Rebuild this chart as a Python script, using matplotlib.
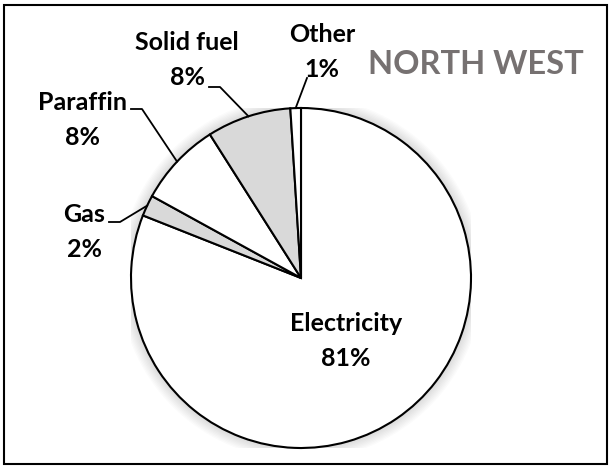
import numpy as np
import matplotlib
matplotlib.use("Agg")
import matplotlib.pyplot as plt
from matplotlib.patches import Rectangle, Circle

categories = ["Electricity", "Gas", "Paraffin", "Solid fuel", "Other"]
values = [81, 2, 8, 8, 1]
colors = ["white", "#d9d9d9", "white", "#d9d9d9", "white"]
title = "NORTH WEST"

plt.rcParams['font.family'] = ['Lato', 'DejaVu Sans']

W, H = 612, 468
fig = plt.figure(figsize=(W / 100, H / 100), dpi=100)
cx, cy, R = 301, 278, 170
ax = fig.add_axes([(cx - R) / W, (H - cy - R) / H, 2 * R / W, 2 * R / H])

# soft shadow
for r in np.linspace(1.07, 1.0, 10):
    ax.add_patch(Circle((0, 0), r, color='black', alpha=0.015, lw=0, zorder=0))

wedges, _ = ax.pie(values, colors=colors, startangle=90, counterclock=False,
                   radius=1.0, wedgeprops=dict(edgecolor='black', linewidth=1.5))
for w in wedges:
    w.set_zorder(2)
ax.set_xlim(-1, 1)
ax.set_ylim(-1, 1)
ax.set_aspect('equal')
ax.axis('off')

def px(x, y):
    return ((x - cx) / R, (cy - y) / R)

fs = 18
label_info = {
    "Electricity": dict(pos=(346, 341), hook=None),
    "Gas": dict(pos=(84, 232), hook=(109, 222)),
    "Paraffin": dict(pos=(82, 120), hook=(131, 109)),
    "Solid fuel": dict(pos=(187, 60), hook=(209, 87)),
    "Other": dict(pos=(322, 52), hook=(307, 78)),
}

for cat, v, w in zip(categories, values, wedges):
    ang = np.deg2rad((w.theta1 + w.theta2) / 2)
    info = label_info[cat]
    tx, ty = px(*info['pos'])
    ax.text(tx, ty, f"{cat}\n{v}%", ha='center', va='center', fontsize=fs,
            fontweight='bold', linespacing=1.6, zorder=5)
    if info['hook'] is not None:
        hx, hy = px(*info['hook'])
        ex, ey = np.cos(ang), np.sin(ang)
        if cat == "Other":
            ax.plot([hx, ex], [hy, ey], color='black', lw=1.3, zorder=4, clip_on=False)
        else:
            ax.plot([hx, hx + 11 / R, ex], [hy, hy, ey], color='black', lw=1.3,
                    zorder=4, clip_on=False)

fig.text(476 / W, 1 - 64 / H, title, ha='center', va='center', fontsize=23.5,
         fontweight='bold', color='#767171')

fig.add_artist(Rectangle((4 / W, 4 / H), (W - 9) / W, (H - 9) / H,
                         transform=fig.transFigure, fill=False,
                         edgecolor='black', linewidth=1.5))

fig.savefig("out.png", dpi=100, facecolor='white')
